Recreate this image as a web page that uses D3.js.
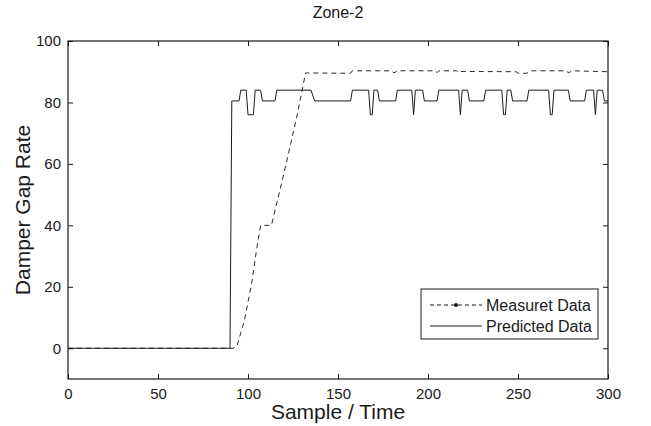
<!DOCTYPE html>
<html>
<head>
<meta charset="utf-8">
<script src="https://cdn.jsdelivr.net/npm/d3@7/dist/d3.min.js"></script>
<style>
  body { margin: 0; background: #fff; }
  text { font-family: "Liberation Sans", Arial, sans-serif; fill: #1a1a1a; }
</style>
</head>
<body>
<div id="chart"></div>
<script>
const width = 651;
const height = 426;

const xTicks = [0, 50, 100, 150, 200, 250, 300];
const yTicks = [0, 20, 40, 60, 80, 100];

// [sample, value] break points
const measured = [
  [0, 0], [92, 0], [93, 1], [94, 1], [98, 9], [102, 21], [105, 33], [107, 40],
  [113, 40], [120, 57], [127, 75], [132, 89.6], [157, 89.5], [158, 90.3],
  [180, 90.3], [181, 89.6], [183, 90.3], [204, 90.3], [205, 89.7], [206, 90.3],
  [216, 90.3], [217, 89.7], [218, 90.1], [249, 90], [250, 89.5], [255, 89.5],
  [257, 90.3], [277, 90.3], [278, 89.6], [280, 90.3], [300, 90]
];

const predicted = [
  [0, 0], [90, 0], [91, 80.5], [95, 80.5], [96, 84], [99, 84], [100, 76], [103, 76],
  [104, 84], [107, 84], [108, 80.5], [115, 80.5], [116, 84], [135, 84], [137, 80.5],
  [157, 80.5], [158, 84], [167, 84], [168, 76], [169, 76], [170, 84], [172, 84],
  [173, 80.5], [182, 80.5], [183, 84], [191, 84], [192, 76], [193, 84], [197, 84],
  [198, 80.5], [205, 80.5], [206, 84], [217, 84], [218, 76], [219, 84], [222, 84],
  [223, 80.5], [231, 80.5], [232, 84], [241, 84], [242, 76], [243, 76], [244, 84],
  [246, 84], [247, 80.5], [255, 80.5], [256, 84], [267, 84], [268, 76], [269, 76],
  [270, 84], [278, 84], [279, 80.5], [287, 80.5], [288, 84], [292, 84], [293, 76],
  [294, 84], [297, 84], [298, 80.5], [300, 80.5]
];

const legendNames = ["Measuret Data", "Predicted Data"];

const margin = { left: 68, right: 43, top: 41, bottom: 47 };

const svg = d3.select("#chart")
  .append("svg")
  .attr("width", width)
  .attr("height", height);

const x = d3.scaleLinear()
  .domain([0, 300])
  .range([margin.left, width - margin.right]);

const y = d3.scaleLinear()
  .domain([-10, 100])
  .range([height - margin.bottom, margin.top]);

const x0 = x.range()[0], x1 = x.range()[1];
const y0 = y.range()[0], y1 = y.range()[1];

// lines
const line = d3.line()
  .x(d => x(d[0]))
  .y(d => y(d[1]));

svg.append("path")
  .datum(measured)
  .attr("d", line)
  .attr("fill", "none")
  .attr("stroke", "#2a2a2a")
  .attr("stroke-width", 1)
  .attr("stroke-dasharray", "5,4");

svg.append("path")
  .datum(predicted)
  .attr("d", line)
  .attr("fill", "none")
  .attr("stroke", "#1a1a1a")
  .attr("stroke-width", 1);

// axes (ticks inside, mirrored on top/right)
const tickLen = 5;

svg.append("g")
  .attr("transform", `translate(0,${y0})`)
  .call(d3.axisBottom(x).tickValues(xTicks).tickSizeInner(-tickLen).tickSizeOuter(0).tickPadding(9))
  .call(g => g.select(".domain").remove())
  .call(g => g.selectAll("text").style("font-size", "15px"));

svg.append("g")
  .attr("transform", `translate(0,${y1})`)
  .call(d3.axisTop(x).tickValues(xTicks).tickSizeInner(-tickLen).tickSizeOuter(0).tickFormat(""))
  .call(g => g.select(".domain").remove());

svg.append("g")
  .attr("transform", `translate(${x0},0)`)
  .call(d3.axisLeft(y).tickValues(yTicks).tickSizeInner(-tickLen).tickSizeOuter(0).tickPadding(7))
  .call(g => g.select(".domain").remove())
  .call(g => g.selectAll("text").style("font-size", "15px"));

svg.append("g")
  .attr("transform", `translate(${x1},0)`)
  .call(d3.axisRight(y).tickValues(yTicks).tickSizeInner(-tickLen).tickSizeOuter(0).tickFormat(""))
  .call(g => g.select(".domain").remove());

svg.selectAll(".tick line").attr("stroke", "#1a1a1a");

svg.append("rect")
  .attr("x", x0)
  .attr("y", y1)
  .attr("width", x1 - x0)
  .attr("height", y0 - y1)
  .attr("fill", "none")
  .attr("stroke", "#1a1a1a")
  .attr("stroke-width", 1.2);

// title & labels
svg.append("text")
  .attr("x", (x0 + x1) / 2)
  .attr("y", 18)
  .attr("text-anchor", "middle")
  .style("font-size", "16px")
  .text("Zone-2");

svg.append("text")
  .attr("x", (x0 + x1) / 2)
  .attr("y", 419)
  .attr("text-anchor", "middle")
  .style("font-size", "21px")
  .text("Sample / Time");

svg.append("text")
  .attr("transform", `translate(30,${(y0 + y1) / 2}) rotate(-90)`)
  .attr("text-anchor", "middle")
  .style("font-size", "21px")
  .text("Damper Gap Rate");

// legend
const legend = svg.append("g")
  .attr("transform", "translate(421,289)");

legend.append("rect")
  .attr("width", 177)
  .attr("height", 50)
  .attr("fill", "#fff")
  .attr("stroke", "#1a1a1a")
  .attr("stroke-width", 1);

legend.selectAll("line.item")
  .data(legendNames)
  .enter().append("line")
  .attr("class", "item")
  .attr("x1", 9)
  .attr("x2", 61)
  .attr("y1", (d, i) => 16 + i * 21)
  .attr("y2", (d, i) => 16 + i * 21)
  .attr("stroke", "#1a1a1a")
  .attr("stroke-width", 1)
  .attr("stroke-dasharray", (d, i) => i === 0 ? "4,3" : null);

legend.append("circle")
  .attr("cx", 35)
  .attr("cy", 16)
  .attr("r", 2)
  .attr("fill", "#1a1a1a");

legend.selectAll("text.item")
  .data(legendNames)
  .enter().append("text")
  .attr("class", "item")
  .attr("x", 65)
  .attr("y", (d, i) => 16 + i * 21)
  .attr("dy", "0.35em")
  .style("font-size", "16px")
  .text(d => d);
</script>
</body>
</html>
